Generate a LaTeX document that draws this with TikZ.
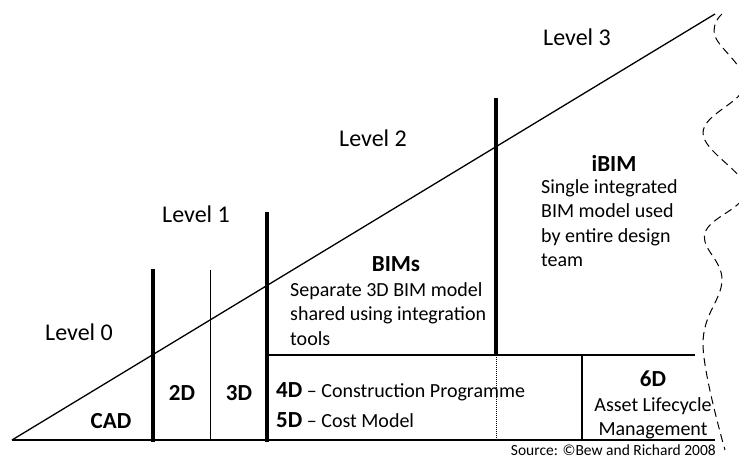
\documentclass[tikz,border=0pt]{standalone}
\usepackage{fontspec}
\setmainfont{Carlito}
\begin{document}
\begin{tikzpicture}[x=1pt,y=-1pt,
  frame/.style={line width=1.3pt},
  bar/.style={line width=3.6pt},
  divider/.style={line width=1pt},
  levellbl/.style={font=\fontsize{24}{28}\selectfont, inner sep=0pt},
  stagelbl/.style={font=\bfseries\fontsize{23}{27}\selectfont, inner sep=0pt},
  body/.style={font=\fontsize{20}{24.5}\selectfont, inner sep=0pt, align=left},
  bodyc/.style={font=\fontsize{20}{24}\selectfont, inner sep=0pt, align=center},
  src/.style={font=\fontsize{15.5}{18}\selectfont, inner sep=0pt},
  wave/.style={line width=1pt, dash pattern=on 8pt off 5pt}]
\useasboundingbox (0,0) rectangle (739,458);

% main wedge
\coordinate (O) at (12,440);
\coordinate (T) at (715,14);
\coordinate (E) at (715,440);
\draw[frame] (O) -- (T);
\draw[frame] (O) -- (E);

% level boundaries
\coordinate (b1t) at (153,269); \coordinate (b1b) at (153,442);
\coordinate (d1t) at (210,270); \coordinate (d1b) at (210,440);
\coordinate (b2t) at (267,212); \coordinate (b2b) at (267,442);
\coordinate (b3t) at (496,98);  \coordinate (b3b) at (496,355);
\coordinate (b3e) at (496,440);
\draw[bar] (b1t) -- (b1b);
\draw[divider] (d1t) -- (d1b);
\draw[bar] (b2t) -- (b2b);
\draw[bar] (b3t) -- (b3b);
\draw[line width=1pt, densely dotted] (b3b) -- (b3e);

% lower band
\coordinate (hl) at (267,355); \coordinate (hr) at (695,355);
\coordinate (v6t) at (582,355); \coordinate (v6b) at (582,440);
\draw[frame] (hl) -- (hr);
\draw[frame] (v6t) -- (v6b);

% open right-hand edge
\begin{scope}
\clip (0,0) rectangle (739,458);
\draw[wave] plot[smooth, tension=0.65] coordinates {
  (722,14) (715,36) (745,85) (703,133) (746,190) (705,233)
  (722,280) (703,345) (725,450)};
\end{scope}

% level labels
\node[levellbl] (L0) at (79,332) {Level 0};
\node[levellbl] (L1) at (196,214) {Level 1};
\node[levellbl] (L2) at (373,138) {Level 2};
\node[levellbl] (L3) at (577,37) {Level 3};

% stage labels
\node[stagelbl] (cad) at (111,421) {CAD};
\node[stagelbl] (d2) at (182,393) {2D};
\node[stagelbl] (d3) at (239,393) {3D};
\node[stagelbl] (bims) at (396,264) {BIMs};
\node[body, anchor=north west] (bimstxt) at (290,282)
  {Separate 3D BIM model\\shared using integration\\tools};
\node[stagelbl] (ibim) at (614,163) {iBIM};
\node[body, anchor=north west] (ibimtxt) at (541,179)
  {Single integrated\\BIM model used\\by entire design\\team};

\node[body, anchor=west] (d4) at (276,392)
  {{\bfseries\fontsize{23}{27}\selectfont 4D} -- Construction Programme};
\node[body, anchor=west] (d5) at (276,420)
  {{\bfseries\fontsize{23}{27}\selectfont 5D} -- Cost Model};

\node[stagelbl] (d6) at (653,379) {6D};
\node[bodyc] (d6txt) at (653,418) {Asset Lifecycle\\Management};

\node[src, anchor=east] (source) at (716,450) {Source: ©Bew and Richard 2008};
\end{tikzpicture}
\end{document}
